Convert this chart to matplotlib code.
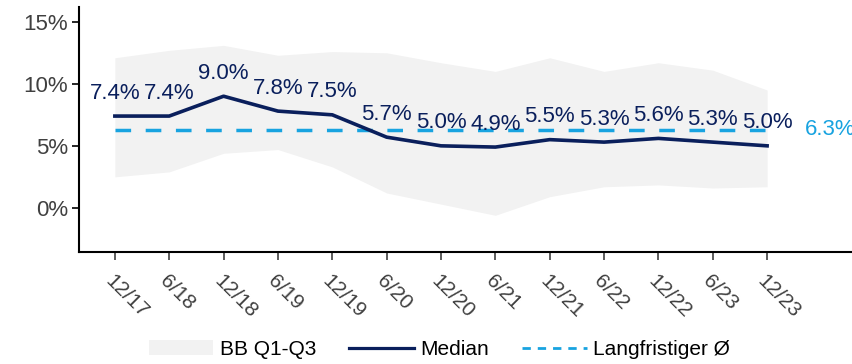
import matplotlib
matplotlib.use("Agg")
import matplotlib.pyplot as plt
from matplotlib.patches import Patch
from matplotlib.lines import Line2D

# data
periods = ["12/17", "6/18", "12/18", "6/19", "12/19", "6/20", "12/20",
           "6/21", "12/21", "6/22", "12/22", "6/23", "12/23"]
median = [7.4, 7.4, 9.0, 7.8, 7.5, 5.7, 5.0, 4.9, 5.5, 5.3, 5.6, 5.3, 5.0]
q1 = [2.5, 2.9, 4.4, 4.7, 3.3, 1.2, 0.3, -0.6, 0.9, 1.7, 1.85, 1.6, 1.7]
q3 = [12.1, 12.7, 13.1, 12.3, 12.6, 12.5, 11.7, 11.0, 12.1, 11.0, 11.7, 11.1, 9.5]
long_term_mean = 6.3

NAVY = "#0A1F5C"
CYAN = "#18A3E0"
BAND = "#F2F2F2"
TXT = "#404040"

plt.rcParams["font.family"] = ["Liberation Sans", "DejaVu Sans"]

fig = plt.figure(figsize=(8.53, 3.64), dpi=100)
ax = fig.add_axes([0.0926, 0.308, 0.9074, 0.673])

x = list(range(len(periods)))

ax.fill_between(x, q1, q3, color=BAND, linewidth=0, zorder=1)
ax.plot(x, [long_term_mean] * len(x), color=CYAN, linewidth=2.5,
        dashes=(4.5, 4.2), zorder=2)
ax.plot(x, median, color=NAVY, linewidth=2.6, zorder=3)

for xi, v in zip(x, median):
    ax.annotate(f"{v:.1f}%", (xi, v), xytext=(0, 12.5), textcoords="offset points",
                ha="center", va="baseline", fontsize=16, color=NAVY, zorder=4)

# label of the long-term mean, runs off the right edge like the original
ax.text(12.7, long_term_mean, f"{long_term_mean:.1f}%", ha="left", va="center",
        fontsize=16, color=CYAN, clip_on=False)

ax.set_xlim(-0.66, 13.58)
ax.set_ylim(-3.55, 16.2)
ax.set_yticks([0, 5, 10, 15])
ax.set_yticklabels(["0%", "5%", "10%", "15%"])
ax.set_xticks(x)
ax.set_xticklabels(periods, rotation=-45, ha="left", rotation_mode="anchor")

ax.tick_params(axis="y", labelsize=16, labelcolor=TXT, length=5, width=1.2,
               color="black", pad=3)
ax.tick_params(axis="x", labelsize=15, labelcolor=TXT, length=6, width=1.2,
               color="#404040", pad=8)

for s in ["top", "right"]:
    ax.spines[s].set_visible(False)
for s in ["left", "bottom"]:
    ax.spines[s].set_linewidth(1.5)

handles = [
    Patch(facecolor=BAND, edgecolor="none"),
    Line2D([0], [0], color=NAVY, linewidth=2.3),
    Line2D([0], [0], color=CYAN, linewidth=2, dashes=(3, 2.5)),
]
labels = ["BB Q1-Q3", "Median", "Langfristiger Ø"]
fig.legend(handles, labels, loc="center", bbox_to_anchor=(0.515, 0.04), ncol=3,
           frameon=False, handlelength=3.1, columnspacing=1.6,
           handletextpad=0.3,
           prop={"family": ["Liberation Sans Narrow", "Liberation Sans"], "size": 15})

fig.savefig("out.png", dpi=100)
